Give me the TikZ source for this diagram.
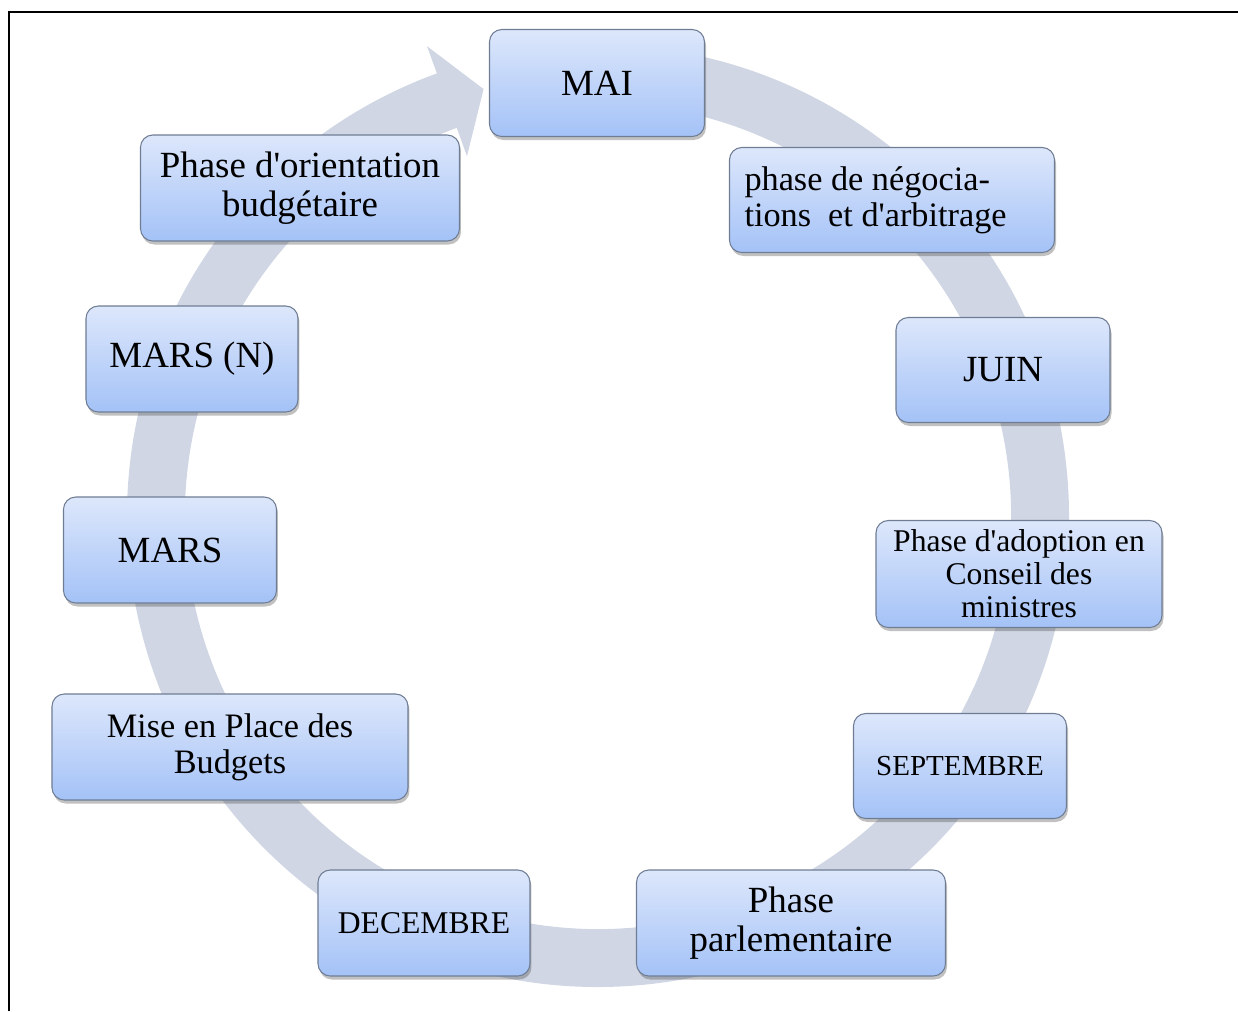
\documentclass[tikz,border=0pt]{standalone}
\usepackage{fontspec}
\setmainfont{Liberation Serif}
\usepackage{xcolor}
\usetikzlibrary{shadows}
\definecolor{ringgray}{HTML}{D0D6E3}
\definecolor{boxtop}{HTML}{DDE7FB}
\definecolor{boxbot}{HTML}{A4C2F7}
\definecolor{boxline}{HTML}{6F7D94}
\tikzset{
  bloc/.style={draw=boxline,line width=0.6pt,rounded corners=7pt,
               top color=boxtop,bottom color=boxbot,
               minimum width=4.26cm,minimum height=2.12cm,
               align=center,inner sep=4pt,
               drop shadow={shadow xshift=0.03cm,shadow yshift=-0.07cm,
                            opacity=0.35,fill=black!70}},
  cadre/.style={line width=1.3pt,draw=black}
}

\begin{document}
\begin{tikzpicture}[x=1cm,y=1cm]
    \useasboundingbox (-11.96,-9.90) rectangle (12.80,10.32);
    \draw[cadre] (-11.78,-9.90) -- (-11.78,10.08) -- (12.80,10.08);

    % anneau du cycle
    \fill[ringgray] (95:9.42) arc[start angle=95,end angle=-250,radius=9.42]
      -- (-250:10.0) -- (-255:8.84) -- (-250:7.66) -- (-250:8.26)
      arc[start angle=-250,end angle=95,radius=8.26] -- cycle;

    \node[bloc,minimum width=4.30cm,minimum height=2.14cm,
          font=\fontsize{21}{22}\selectfont] (mai) at (-0.02,8.66) {MAI};
    \node[bloc,minimum width=6.50cm,minimum height=2.10cm,align=flush left,
          text width=5.9cm,font=\fontsize{19.5}{20.5}\selectfont]
      (negociation) at (5.88,6.32)
      {phase de négocia-\\tions~ et d\textquotesingle arbitrage};
    \node[bloc,minimum width=4.28cm,minimum height=2.10cm,
          font=\fontsize{21}{22}\selectfont] (juin) at (8.10,2.92) {JUIN};
    \node[bloc,minimum width=5.72cm,minimum height=2.14cm,
          font=\fontsize{18}{18.8}\selectfont] (adoption) at (8.42,-1.16)
      {Phase d\textquotesingle adoption en\\Conseil des\\ministres};
    \node[bloc,minimum height=2.10cm,
          font=\fontsize{16.5}{17.5}\selectfont] (septembre) at (7.24,-5.00)
      {SEPTEMBRE};
    \node[bloc,minimum width=6.18cm,
          font=\fontsize{21}{22.2}\selectfont] (parlement) at (3.86,-8.14)
      {Phase\\parlementaire};
    \node[bloc,minimum width=4.24cm,
          font=\fontsize{18}{19}\selectfont] (decembre) at (-3.48,-8.14)
      {DECEMBRE};
    \node[bloc,minimum width=7.12cm,
          font=\fontsize{19.5}{20.5}\selectfont] (miseplace) at (-7.36,-4.62)
      {Mise en Place des\\Budgets};
    \node[bloc,font=\fontsize{21}{22}\selectfont] (mars) at (-8.56,-0.68)
      {MARS};
    \node[bloc,minimum width=4.24cm,
          font=\fontsize{21}{22}\selectfont] (marsn) at (-8.12,3.14)
      {MARS (N)};
    \node[bloc,minimum width=6.38cm,
          font=\fontsize{21}{22.2}\selectfont] (orientation) at (-5.96,6.56)
      {Phase d\textquotesingle orientation\\budgétaire};
\end{tikzpicture}
\end{document}
